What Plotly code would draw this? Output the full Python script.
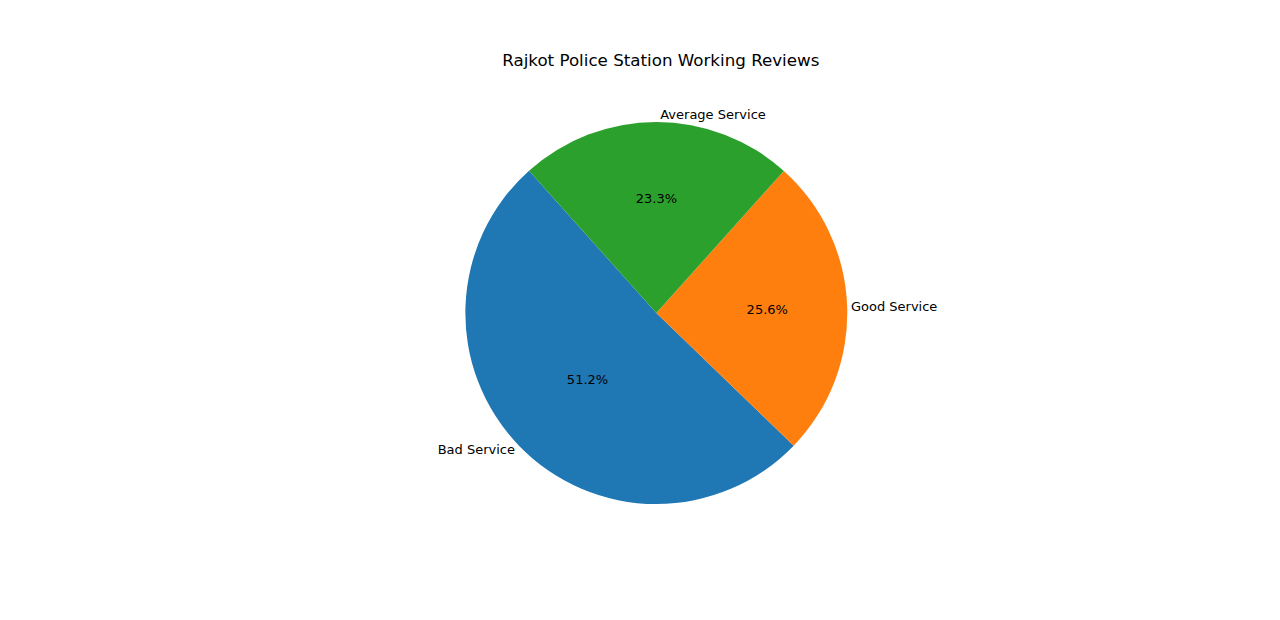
import plotly.graph_objects as go

# Reviews data
labels = ['Bad Service', 'Good Service', 'Average Service']
counts = [22, 11, 10]
colors = ['#1f77b4', '#ff7f0e', '#2ca02c']

dom = dict(x=[0.357, 0.656], y=[0.200, 0.816])
rot = 134

fig = go.Figure()
# percentages inside the slices
fig.add_trace(go.Pie(
    labels=labels, values=counts, sort=False, direction='counterclockwise',
    rotation=rot, marker=dict(colors=colors), textinfo='percent',
    texttemplate='%{percent:.1%}', textposition='inside',
    insidetextorientation='horizontal',
    textfont=dict(family='DejaVu Sans', size=13, color='black'),
    domain=dom, showlegend=False, hoverinfo='skip'))
# labels outside the slices
fig.add_trace(go.Pie(
    labels=labels, values=counts, sort=False, direction='counterclockwise',
    rotation=rot, marker=dict(colors=['rgba(0,0,0,0)'] * 3), textinfo='label',
    textposition='outside', automargin=False,
    textfont=dict(family='DejaVu Sans', size=13, color='black'),
    domain=dom, showlegend=False, hoverinfo='skip'))

fig.update_layout(
    width=1280, height=620, margin=dict(l=0, r=0, t=0, b=0),
    paper_bgcolor='white', plot_bgcolor='white',
    title=dict(text='Rajkot Police Station Working Reviews', x=0.51, xanchor='center',
               y=1 - 52 / 620, yanchor='middle',
               font=dict(family='DejaVu Sans', size=16.7, color='black')))

fig.write_html('out.html')
